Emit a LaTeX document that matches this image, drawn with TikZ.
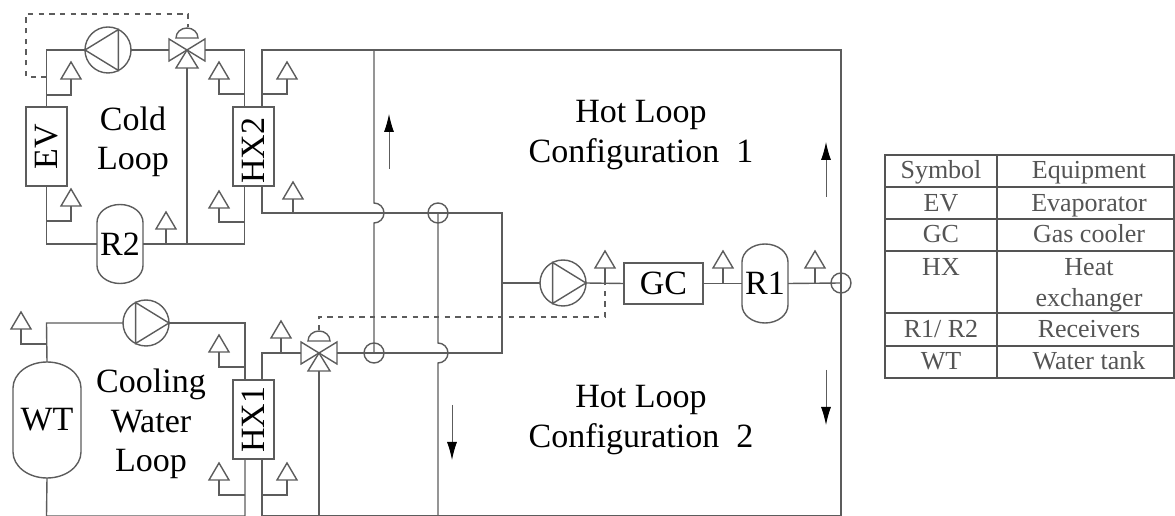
\documentclass[tikz,border=0pt]{standalone}
\usepackage{fontspec}
\setmainfont{Liberation Serif}
\usetikzlibrary{arrows.meta}

\definecolor{pipegray}{gray}{0.36}
\definecolor{tablegray}{gray}{0.33}

\tikzset{
  pipe/.style={line width=1.05pt,color=pipegray},
  signal/.style={line width=1pt,color=pipegray,dash pattern=on 4pt off 4pt},
  flowarrow/.style={line width=0.7pt,color=pipegray,-{Latex[length=13.5pt,width=7.5pt,black]}},
  equip/.style={draw=pipegray,line width=1.05pt,inner sep=0pt,outer sep=0pt,fill=white,font=\fontsize{25.5}{29}\selectfont},
  tankbox/.style={inner sep=0pt,outer sep=0pt,font=\fontsize{25.5}{29}\selectfont},
  pump/.style={circle,draw=pipegray,line width=1.05pt,inner sep=0pt,outer sep=0pt,minimum size=34.5pt},
  valvebox/.style={inner sep=0pt,outer sep=0pt,minimum size=27pt},
  crossing/.style={circle,draw=pipegray,line width=1.05pt,inner sep=0pt,outer sep=0pt,minimum size=15pt},
  looplabel/.style={align=center,font=\fontsize{25.5}{29.6}\selectfont},
  tablelabel/.style={anchor=base,text=tablegray,font=\fontsize{19.5}{23}\selectfont},
  tableline/.style={line width=1pt,color=tablegray},
  sensorhead/.pic={\draw [pipe,fill=white](0,0)--(-10,0)--(0,-17)--(10,0)--cycle;},
  valvebody/.pic={
    \draw [pipe](0,0)--(-18,-11)--(-18,11)--cycle;
    \draw [pipe](0,0)--(18,-11)--(18,11)--cycle;
    \draw [pipe](0,0)--(-11,18)--(11,18)--cycle;
    \draw [pipe](-11,-12) arc[start angle=180,end angle=360,x radius=11,y radius=10]--cycle;
  },
}
\newcommand{\tankoutline}[4]{\draw [pipe] (#1.north west) ++(0,#3) arc[start angle=180,end angle=360,x radius=#2,y radius=#3] -- ++(0,#4) arc[start angle=0,end angle=180,x radius=#2,y radius=#3] -- cycle;}

\begin{document}
\begin{tikzpicture}[x=0.75pt,y=-0.75pt]
\useasboundingbox (0,0) rectangle (1175,516);

% equipment
\node [equip,minimum width=30.75pt,minimum height=59.25pt] (EV) at (46.5,146.5) {\rotatebox{90}{EV}};
\node [equip,minimum width=30.75pt,minimum height=59.25pt] (HXtwo) at (253.5,146.5) {\rotatebox{90}{HX2\hspace{6pt}}};
\node [equip,minimum width=30.75pt,minimum height=59.25pt] (HXone) at (253.5,419.5) {\rotatebox{90}{HX1}};
\node [equip,minimum width=59.25pt,minimum height=30.75pt] (GC) at (663.5,283.5) {GC};
\node [tankbox,minimum width=34.5pt,minimum height=59.25pt] (Rtwo) at (120,244) {R2};
\node [tankbox,minimum width=34.5pt,minimum height=59.25pt] (Rone) at (765,283.5) {R1};
\node [tankbox,minimum width=51pt,minimum height=87pt] (WT) at (47,420) {WT};
\tankoutline{Rtwo}{23}{18}{43}
\tankoutline{Rone}{23}{18}{43}
\tankoutline{WT}{34}{26}{64}

\node [pump] (PumpCold) at (108,50) {};
\node [pump] (PumpWater) at (146,323) {};
\node [pump] (PumpHot) at (563,283) {};
\draw [pipe](PumpCold.west)--(PumpCold.63)--(PumpCold.-63)--cycle;
\draw [pipe](PumpWater.east)--(PumpWater.117)--(PumpWater.-117)--cycle;
\draw [pipe](PumpHot.east)--(PumpHot.117)--(PumpHot.-117)--cycle;

\node [valvebox] (ValveCold) at (187,50) {};
\node [valvebox] (ValveHot) at (319,353) {};
\pic at (ValveCold) {valvebody};
\pic at (ValveHot) {valvebody};

\node [crossing] (CrossA) at (438,213) {};
\node [crossing] (CrossB) at (374,353) {};
\node [crossing] (CrossC) at (841,283) {};

% named points on the pipes
\coordinate (TopEV) at (46.5,50);
\coordinate (TopHXtwo) at (244.5,50);
\coordinate (TopFrame) at (262,50);
\coordinate (TopRight) at (841,50);
\coordinate (BotRight) at (841,516);
\coordinate (BotHXtwo) at (262,213);
\coordinate (RailTop) at (502,213);
\coordinate (RailBot) at (502,353);
\coordinate (RailMid) at (502,283);
\coordinate (LeftTwo) at (46.5,244);
\coordinate (RightTwo) at (244.5,244);
\coordinate (ValveDrop) at (187,244);
\coordinate (HotLeft) at (262,353);
\coordinate (WaterLeft) at (46.5,323);
\coordinate (WaterRight) at (245,323);
\coordinate (HopA) at (374,203);
\coordinate (HopAend) at (374,223);
\coordinate (HopB) at (438,343);
\coordinate (HopBend) at (438,363);
\coordinate (TopCol) at (374,50);
\coordinate (BotCol) at (438,516);
\coordinate (BotValve) at (319,516);
\coordinate (BotHXa) at (245,516);
\coordinate (BotHXb) at (262,516);
\coordinate (BotWT) at (46.5,516);

% cold loop
\draw [pipe](EV.north)--(TopEV)--(PumpCold.west);
\draw [pipe](PumpCold.east)--(ValveCold.west);
\draw [pipe](ValveCold.east)--(TopHXtwo)--(TopHXtwo|-HXtwo.north);
\draw [pipe](EV.south)--(LeftTwo)--(Rtwo.west);
\draw [pipe](Rtwo.east)--(RightTwo)--(RightTwo|-HXtwo.south);
\draw [pipe](ValveCold.south)--(ValveDrop);

% water loop
\draw [pipe](WT.north)--(WaterLeft)--(PumpWater.west);
\draw [pipe](PumpWater.east)--(WaterRight)--(WaterRight|-HXone.north);
\draw [pipe](WT.south)--(BotWT)--(BotHXa)--(BotHXa|-HXone.south);

% hot loop
\draw [pipe](TopFrame|-HXtwo.north)--(TopFrame)--(TopRight)--(BotRight)--(BotHXb)--(BotHXb|-HXone.south);
\draw [pipe](TopFrame|-HXtwo.south)--(BotHXb|-BotHXtwo)--(RailTop)--(RailBot)--(ValveHot.east);
\draw [pipe](ValveHot.west)--(HotLeft)--(HotLeft|-HXone.north);
\draw [pipe](RailMid)--(PumpHot.west);
\draw [pipe](PumpHot.east)--(GC.west);
\draw [pipe](GC.east)--(Rone.west);
\draw [pipe](Rone.east)--(CrossC.center);
\draw [pipe](TopCol)--(HopA) arc[start angle=-90,end angle=90,radius=10]--(HopAend)--(CrossB.center);
\draw [pipe](CrossA.center)--(HopB) arc[start angle=-90,end angle=90,radius=10]--(HopBend)--(BotCol);
\draw [pipe](ValveHot.south)--(BotValve);

% sensors
\coordinate (SenA) at (71,79);   \coordinate (TapA) at (46.5,95);
\coordinate (SenB) at (71,206);  \coordinate (TapB) at (46.5,221);
\coordinate (SenC) at (166,229);
\coordinate (SenD) at (219,79);  \coordinate (TapD) at (244.5,94);
\coordinate (SenE) at (219,208); \coordinate (TapE) at (244.5,222);
\coordinate (SenF) at (287,79);  \coordinate (TapF) at (262,94);
\coordinate (SenG) at (293,199);
\coordinate (SenH) at (605,268);
\coordinate (SenI) at (723,268);
\coordinate (SenJ) at (815,268);
\coordinate (SenK) at (21,329);  \coordinate (TapK) at (46.5,344);
\coordinate (SenL) at (219,352); \coordinate (TapL) at (245,367);
\coordinate (SenM) at (219,480); \coordinate (TapM) at (245,495);
\coordinate (SenN) at (287,480); \coordinate (TapN) at (262,495);
\coordinate (SenO) at (281,338);

\draw [pipe](SenA)|-(TapA);
\draw [pipe](SenB)|-(TapB);
\draw [pipe](SenC)--(SenC|-LeftTwo);
\draw [pipe](SenD)|-(TapD);
\draw [pipe](SenE)|-(TapE);
\draw [pipe](SenF)|-(TapF);
\draw [pipe](SenG)--(SenG|-BotHXtwo);
\draw [pipe](SenH)--(SenH|-GC.west);
\draw [pipe](SenI)--(SenI|-GC.east);
\draw [pipe](SenJ)--(SenJ|-CrossC);
\draw [pipe](SenK)|-(TapK);
\draw [pipe](SenL)|-(TapL);
\draw [pipe](SenM)|-(TapM);
\draw [pipe](SenN)|-(TapN);
\draw [pipe](SenO)--(SenO|-HotLeft);
\pic at (SenA) {sensorhead};
\pic at (SenB) {sensorhead};
\pic at (SenC) {sensorhead};
\pic at (SenD) {sensorhead};
\pic at (SenE) {sensorhead};
\pic at (SenF) {sensorhead};
\pic at (SenG) {sensorhead};
\pic at (SenH) {sensorhead};
\pic at (SenI) {sensorhead};
\pic at (SenJ) {sensorhead};
\pic at (SenK) {sensorhead};
\pic at (SenL) {sensorhead};
\pic at (SenM) {sensorhead};
\pic at (SenN) {sensorhead};
\pic at (SenO) {sensorhead};

% signal lines
\coordinate (DashA) at (26,14);
\coordinate (DashB) at (188,14);
\coordinate (DashC) at (26,77);
\coordinate (DashD) at (46.5,77);
\coordinate (DashE) at (188,27);
\coordinate (DashF) at (319,317);
\coordinate (DashG) at (605,317);
\coordinate (DashH) at (605,283);
\coordinate (DashI) at (319,330);
\draw [signal](DashD)--(DashC)--(DashA)--(DashB)--(DashE);
\draw [signal](DashI)--(DashF)--(DashG)--(DashH);

% flow arrows
\coordinate (ArrA) at (389,169); \coordinate (ArrAtip) at (389,114);
\coordinate (ArrB) at (826,197); \coordinate (ArrBtip) at (826,142);
\coordinate (ArrC) at (452,405); \coordinate (ArrCtip) at (452,460);
\coordinate (ArrD) at (826,370); \coordinate (ArrDtip) at (826,425);
\draw [flowarrow](ArrA)--(ArrAtip);
\draw [flowarrow](ArrB)--(ArrBtip);
\draw [flowarrow](ArrC)--(ArrCtip);
\draw [flowarrow](ArrD)--(ArrDtip);

% loop names
\node [looplabel] (ColdName) at (133,142) {Cold\\Loop};
\node [looplabel] (WaterName) at (151,424) {Cooling\\Water\\Loop};
\node [looplabel] (HotOne) at (641,135) {Hot Loop\\Configuration\ \ 1};
\node [looplabel] (HotTwo) at (641,420) {Hot Loop\\Configuration\ \ 2};

% table
\draw [tableline](885,155) rectangle (1174,378);
\draw [tableline](997,155)--(997,378);
\draw [tableline](885,187)--(1174,187);
\draw [tableline](885,219)--(1174,219);
\draw [tableline](885,251)--(1174,251);
\draw [tableline](885,313)--(1174,313);
\draw [tableline](885,346)--(1174,346);
\node [tablelabel] (SymHead) at (941,179) {Symbol};
\node [tablelabel] (EqHead) at (1089,179) {Equipment};
\node [tablelabel] (SymEV) at (941,212) {EV};
\node [tablelabel] (EqEV) at (1089,212) {Evaporator};
\node [tablelabel] (SymGC) at (941,243) {GC};
\node [tablelabel] (EqGC) at (1089,243) {Gas cooler};
\node [tablelabel] (SymHX) at (941,276) {HX};
\node [tablelabel] (EqHXa) at (1089,276) {Heat};
\node [tablelabel] (EqHXb) at (1089,307) {exchanger};
\node [tablelabel] (SymR) at (941,338) {R1/ R2};
\node [tablelabel] (EqR) at (1089,338) {Receivers};
\node [tablelabel] (SymWT) at (941,370) {WT};
\node [tablelabel] (EqWT) at (1089,370) {Water tank};
\end{tikzpicture}
\end{document}
